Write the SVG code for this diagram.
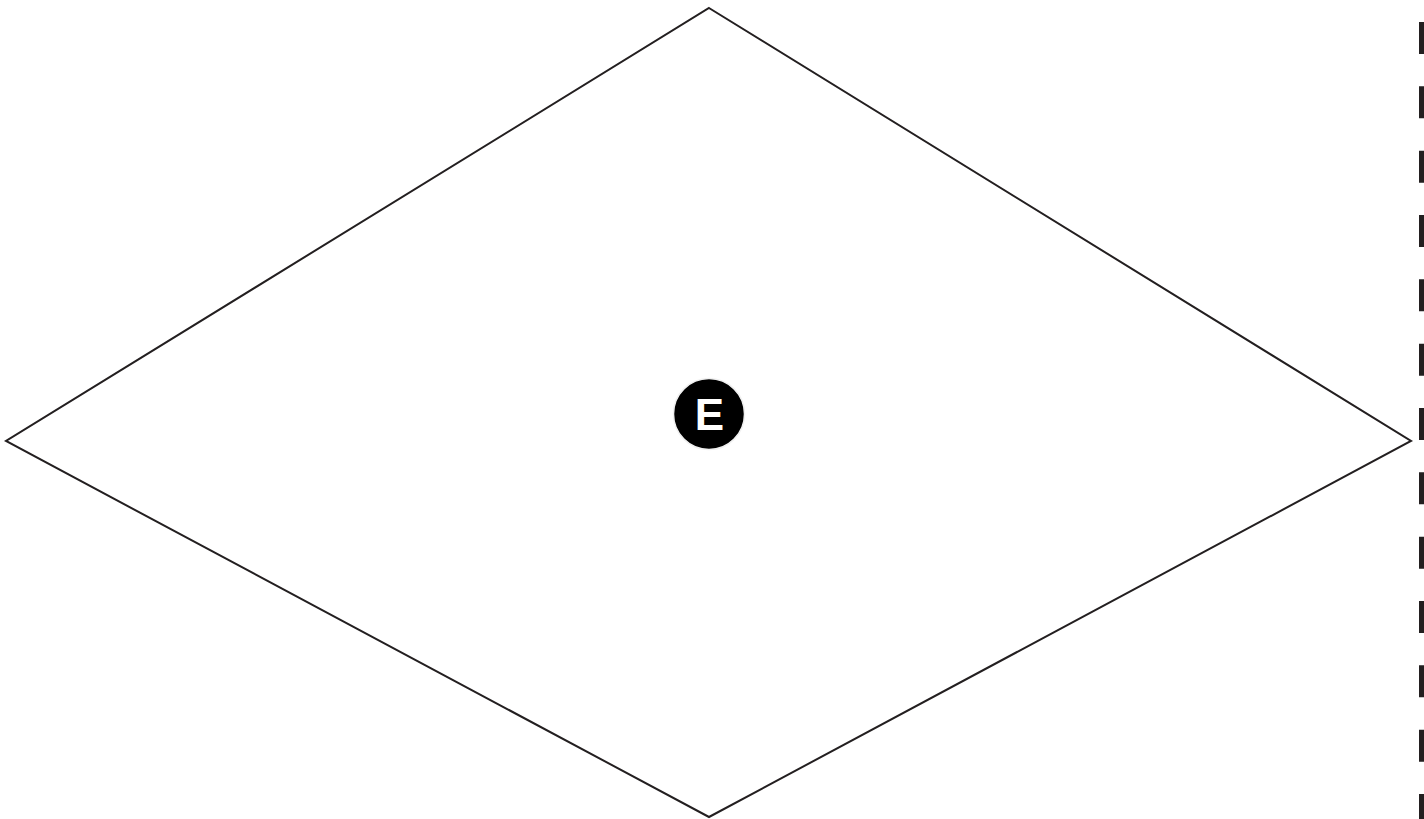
<svg xmlns="http://www.w3.org/2000/svg" width="1424" height="819" viewBox="0 0 1424 819">
<style>
.edge{fill:none;stroke:#231f20;stroke-width:2;stroke-linejoin:miter}
.dash{stroke:#231f20;stroke-width:8;stroke-dasharray:32 32.33}
.badge{fill:#000;stroke:#f0f0f0;stroke-width:1.5}
.lbl{font-family:"Liberation Sans",Arial,sans-serif;font-weight:bold;font-size:44px;fill:#fff;text-anchor:middle}
</style>
<rect width="1424" height="819" fill="#fff"/>
<g id="diamond">
<polygon class="edge" points="709,8 1411,441 709,817 6,441"/>
</g>
<g id="dashed-edge">
<line class="dash" x1="1423" y1="22" x2="1423" y2="830"/>
</g>
<g id="badge-E">
<circle class="badge" cx="709" cy="414" r="35.5"/>
<text class="lbl" x="709.5" y="429.5">E</text>
</g>
</svg>
